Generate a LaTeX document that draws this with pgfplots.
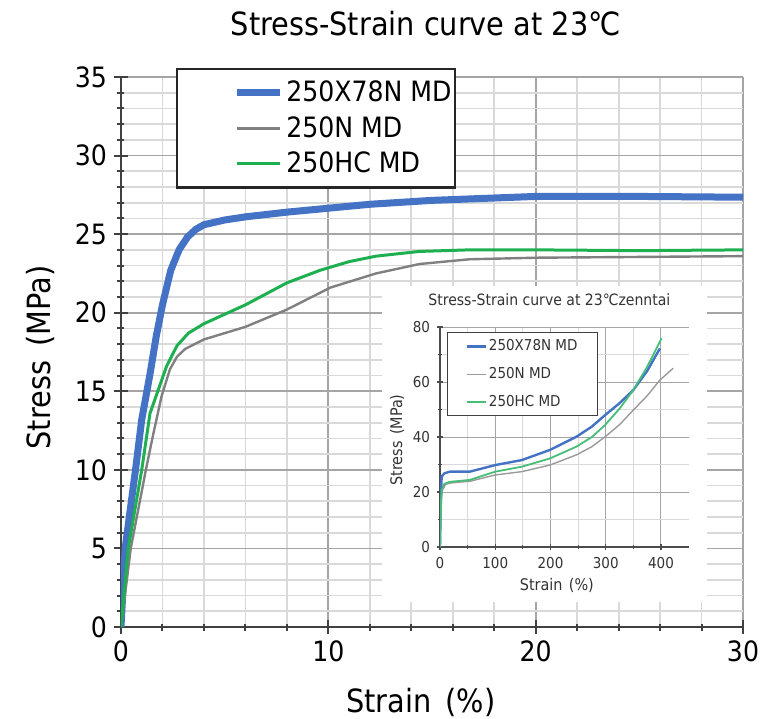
\documentclass[border=0pt]{standalone}
\usepackage{fontspec}
\setmainfont{DejaVu Sans Condensed}
\usepackage{pgfplots}
\pgfplotsset{compat=1.18}
\usetikzlibrary{calc}
\definecolor{cblue}{RGB}{68,114,196}
\definecolor{cgray}{RGB}{128,128,128}
\definecolor{cgreen}{RGB}{30,176,80}
\definecolor{cgreenl}{RGB}{70,190,120}
\definecolor{gmaj}{RGB}{165,165,165}
\definecolor{gmin}{RGB}{217,217,217}
\begin{document}
\begin{tikzpicture}
% main chart
\begin{axis}[
    name=main, at={(0,0)}, anchor=south west,
    scale only axis, width=311pt, height=275pt,
    xmin=0, xmax=30, ymin=0, ymax=35,
    xtick={0,10,20,30}, ytick={0,5,...,35},
    minor x tick num=4, minor y tick num=4,
    grid=both,
    major grid style={gmaj, line width=0.9pt},
    minor grid style={gmin, line width=0.9pt},
    axis x line=bottom, axis y line=left,
    axis line style={-, black!75, line width=1pt},
    tick style={black!75, line width=1pt},
    tick align=center, major tick length=7pt, minor tick length=3.5pt,
    /pgf/number format/assume math mode=true,
    ticklabel style={font=\fontsize{14}{16}\selectfont},
    title={Stress-Strain curve at 23℃},
    title style={font=\fontsize{16}{18}\selectfont, at={(axis description cs:0.49,1.076)}, anchor=center},
    xlabel={Strain\hspace{0.45em}(\%)},
    xlabel style={font=\fontsize{16}{18}\selectfont, at={(axis description cs:0.482,-0.138)}, anchor=center},
    ylabel={Stress\hspace{0.45em}(MPa)},
    ylabel style={font=\fontsize{16}{18}\selectfont, at={(axis description cs:-0.130,0.49)}, anchor=center},
    legend image code/.code={\path[draw=none,fill=none] (-30pt,0pt) -- (0pt,0pt); \draw[#1] (0pt,0pt) -- (21.5pt,0pt);},
    legend cell align=left,
    legend style={at={(axis description cs:0.088,1.016)}, anchor=north west,
        draw=black!85, line width=1.1pt, fill=white,
        font=\fontsize{14}{16}\selectfont,
        inner xsep=0pt, inner ysep=3pt, row sep=0pt,
        nodes={inner ysep=2.9pt, inner xsep=1.5pt}},
]
\addplot[cblue, line width=3.5pt] coordinates {
(0,0) (0.2,5) (0.7,10) (1.0,13.2) (1.4,16.1) (1.7,18.5) (2.0,20.5) (2.4,22.7)
(2.8,24.0) (3.2,24.8) (3.6,25.3) (4.0,25.6) (5,25.9) (6,26.1) (8,26.4) (10,26.65)
(12,26.9) (15,27.15) (18,27.3) (20,27.4) (25,27.4) (30,27.35)};
\addplot[cgray, line width=1.2pt] coordinates {
(0,0) (0.47,5) (1.2,10) (1.56,12.3) (1.96,14.7) (2.36,16.4) (2.7,17.2) (3.1,17.7)
(4.0,18.3) (6.0,19.1) (8.0,20.2) (10.1,21.6) (12.3,22.5) (14.4,23.1) (16.8,23.4)
(20,23.5) (25,23.55) (30,23.6)};
\addplot[cgreen, line width=1.5pt] coordinates {
(0,0) (0.35,5) (1.0,10) (1.4,13.6) (1.96,15.7) (2.2,16.6) (2.7,17.9) (3.25,18.7)
(4.0,19.3) (6.0,20.5) (8.0,21.9) (9.6,22.7) (11,23.25) (12.3,23.6) (14.4,23.9)
(16.8,24.0) (20,24.0) (25,23.95) (30,24.0)};
\legend{250X78N MD, 250N MD, 250HC MD}
\end{axis}
% white panel behind the inset
\fill[white] (main.south west) ++(130.5pt,12.5pt) rectangle ++(162.5pt,158pt);
% inset chart
\begin{axis}[
    at={($(main.south west)+(159.5pt,40pt)$)}, anchor=south west,
    scale only axis, width=124.3pt, height=110pt,
    xmin=0, xmax=450, ymin=0, ymax=80,
    xtick={0,100,...,400}, ytick={0,20,...,80},
    minor x tick num=1, minor y tick num=1,
    grid=both,
    major grid style={gmaj, line width=0.5pt},
    minor grid style={gmin, line width=0.5pt},
    axis x line=bottom, axis y line=left,
    axis line style={-, black!70, line width=0.6pt},
    tick style={black!70, line width=0.6pt},
    tick align=center, major tick length=3pt, minor tick length=2pt,
    /pgf/number format/assume math mode=true,
    ticklabel style={font=\fontsize{7.5}{9}\selectfont, text=black!80},
    title={Stress-Strain curve at 23℃zenntai},
    title style={font=\fontsize{7.8}{9}\selectfont, text=black!80, at={(axis description cs:0.44,1.07)}, anchor=center},
    xlabel={Strain\hspace{0.4em}(\%)},
    xlabel style={font=\fontsize{8}{9}\selectfont, text=black!80, at={(axis description cs:0.47,-0.173)}, anchor=center},
    ylabel={Stress\hspace{0.4em}(MPa)},
    ylabel style={font=\fontsize{8}{9}\selectfont, text=black!80, at={(axis description cs:-0.173,0.486)}, anchor=center},
    legend image code/.code={\path[draw=none,fill=none] (-0.5pt,0pt) -- (0pt,0pt); \draw[#1] (0pt,0pt) -- (9.5pt,0pt);},
    legend cell align=left,
    legend style={at={(axis description cs:0.028,0.977)}, anchor=north west,
        draw=black!75, line width=0.6pt, fill=white,
        font=\fontsize{7.5}{9}\selectfont, text=black!80,
        inner xsep=9pt, inner ysep=0pt, row sep=0pt,
        nodes={inner ysep=3.4pt, inner xsep=1pt}},
]
\addplot[cblue, line width=1.2pt] coordinates {
(0,0) (1,12) (2,20) (3,25.6) (8,26.8) (18,27.4) (54,27.4) (100,29.8) (148,31.6)
(199,35.3) (247,40.1) (275,43.8) (299,48) (325,52.3) (350,57.1) (375,64) (398,72.2)};
\addplot[cgray!80, line width=0.7pt] coordinates {
(0,0) (1,9) (2,16) (4,20.5) (10,22.8) (20,23.3) (54,23.9) (100,26.2) (148,27.4)
(199,29.8) (247,33.5) (275,36.5) (299,40.1) (325,44.5) (350,49.8) (375,55) (398,60.7) (422,65)};
\addplot[cgreenl, line width=0.9pt] coordinates {
(0,0) (1,10) (2,17) (3,20.7) (8,23) (18,23.7) (54,24.4) (100,27.4) (148,29.2)
(199,32.2) (247,36.5) (275,40) (299,44.4) (325,50.3) (350,57.1) (375,65.5) (401,75.9)};
\legend{250X78N MD, 250N MD, 250HC MD}
\end{axis}
\pgfresetboundingbox
\path (main.south west) ++(-60.5pt,-45.5pt) rectangle ++(382pt,359pt);
\end{tikzpicture}
\end{document}
